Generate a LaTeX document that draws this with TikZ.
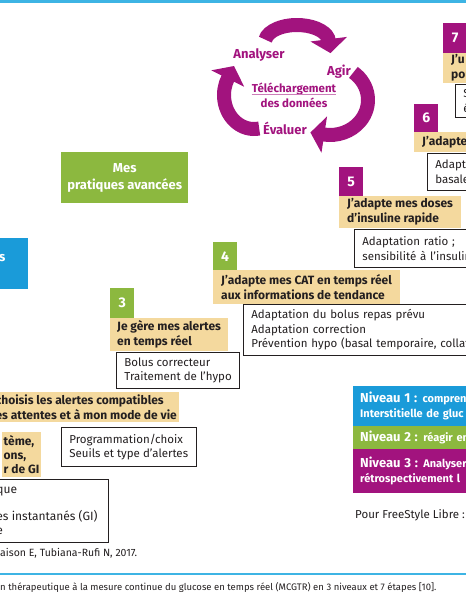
\documentclass[tikz,border=0pt]{standalone}
\usepackage{fontspec}
\setmainfont{Fira Sans}
\usetikzlibrary{arrows.meta,positioning}
\definecolor{ink}{HTML}{231F20}
\definecolor{plum}{HTML}{A2137E}
\definecolor{leaf}{HTML}{8CB83F}
\definecolor{sky}{HTML}{1A9BD9}
\definecolor{rule}{HTML}{3DB4E4}
\definecolor{sand}{HTML}{F4D99E}
\tikzset{
  every node/.style={font=\fontsize{11.5}{14.5}\selectfont,text=ink,inner sep=0pt},
  numbox/.style={anchor=north west,minimum width=24pt,text=white,font=\bfseries\fontsize{14}{14}\selectfont},
  band/.style={anchor=north west,fill=sand,align=left,inner xsep=8pt,font=\bfseries\fontsize{12}{15}\selectfont},
  infobox/.style={anchor=north west,draw=ink,line width=.8pt,fill=white,align=left,inner xsep=8pt},
  cyclearrow/.style={draw=plum,line width=14pt,-{Triangle[length=14pt,width=36pt]}},
  cycletext/.style={text=plum,font=\bfseries\fontsize{13}{15}\selectfont},
  levelbox/.style={anchor=north west,text=white,align=left,inner xsep=7pt,font=\bfseries\fontsize{11}{15}\selectfont},
  bigbold/.style={font=\bfseries\fontsize{13}{17}\selectfont}}
\newcommand\lvl[1]{{\fontsize{13}{15}\selectfont #1}}

\begin{document}
\begin{tikzpicture}[x=1pt,y=-1pt]
\useasboundingbox (0,0) rectangle (466,600);
\clip (0,0) rectangle (466,600);
\fill[rule] (0,0) rectangle (466,2.5);

\draw[cyclearrow] (297,42) ++(-172:32 and 17) arc[start angle=-172,end angle=-3,x radius=32,y radius=17] -- ++(1.5,12);
\draw[cyclearrow] (330,100) ++(-52:38 and 35) arc[start angle=-52,end angle=100,x radius=38,y radius=35] -- ++(-13,-2);
\draw[cyclearrow] (254,95) ++(80:30 and 34) arc[start angle=80,end angle=210,x radius=30,y radius=34] -- ++(6,-12);
\node[cycletext] (analyse) at (259,55) {Analyser};
\node[cycletext] (act) at (339,72) {Agir};
\node[cycletext,font=\bfseries\fontsize{11.5}{14}\selectfont] (download) at (294,89) {Téléchargement};
\draw[plum!55,line width=.8pt] ([yshift=-2pt]download.base west) -- ([yshift=-2pt]download.base east);
\node[cycletext,font=\bfseries\fontsize{11.5}{14}\selectfont] (data) at (294,103) {des données};
\node[cycletext] (evaluate) at (285,128) {Évaluer};

\node[fill=leaf,text=white,bigbold,align=center,anchor=north west,minimum width=127pt,minimum height=51pt] (advanced) at (61,152) {Mes\\pratiques avancées};
\node[fill=sky,anchor=north east,minimum width=40pt,minimum height=51pt] (basics) at (28,238) {};
\node[text=white,bigbold,anchor=east] (basicstxt) at (5.5,258) {s};

\node[numbox,fill=plum,minimum height=30pt] (num7) at (443,23) {7};
\node[band,minimum height=30pt,text width=40pt] (band7) at (443,53) {J'u\\pou};
\node[infobox,minimum height=33pt,text width=30pt] (box7) at (455,84) {S\\é};

\node[numbox,fill=plum,minimum height=28pt] (num6) at (414,104) {6};
\node[band,minimum height=20pt,text width=60pt] (band6) at (414,132) {J'adapte};
\node[infobox,minimum height=37pt,text width=50pt] (box6) at (427,153) {Adapta\\basale};

\node[numbox,fill=plum,minimum height=29pt] (num5) at (339,167) {5};
\node[band,minimum height=32pt] (band5) at (339,196) {J'adapte mes doses\\d'insuline rapide};
\node[infobox,minimum height=38pt,text width=120pt] (box5) at (354,229) {Adaptation ratio ;\\sensibilité à l'insulin};

\node[numbox,fill=leaf,minimum height=28pt] (num4) at (213,242) {4};
\node[band,minimum height=34pt] (band4) at (213,270) {J'adapte mes CAT en temps réel\\aux informations de tendance};
\node[infobox,minimum height=51pt,text width=250pt] (box4) at (243,304) {Adaptation du bolus repas prévu\\Adaptation correction\\Prévention hypo (basal temporaire, collati};

\node[numbox,fill=leaf,minimum height=30pt] (num3) at (110,288) {3};
\node[band,minimum height=33pt,inner xsep=7pt] (band3) at (110,318) {Je gère mes alertes\\en temps réel};
\node[infobox,minimum height=36pt] (box3) at (116,352) {Bolus correcteur\\Traitement de l'hypo};

\node[band,anchor=north east,minimum height=30pt,inner xsep=2pt] (band2) at (179,392) {choisis les alertes compatibles\\es attentes et à mon mode de vie};
\node[infobox,minimum height=39pt] (box2) at (61,427) {Programmation/choix\\Seuils et type d'alertes};

\node[band,anchor=north east,minimum height=45pt,inner xsep=1.5pt,font=\bfseries\fontsize{12}{14}\selectfont] (band1) at (41,432) {tème,\\ons,\\r de GI};
\node[infobox,anchor=north east,minimum height=63pt,inner xsep=11pt,font=\fontsize{12}{13.5}\selectfont] (box1) at (109,479) {que\\\mbox{}\\es instantanés (GI)\\e};

\node[levelbox,fill=sky,minimum height=40pt,text width=110pt] (level1) at (353,386) {\lvl{Niveau 1 :} compren\\Interstitielle de gluc};
\node[levelbox,fill=leaf,minimum height=23pt,text width=110pt] (level2) at (353,426) {\lvl{Niveau 2 :} réagir en};
\node[levelbox,fill=plum,minimum height=44pt,text width=110pt] (level3) at (353,449) {\lvl{Niveau 3 :} Analyser\\rétrospectivement l};
\node[anchor=west] (freestyle) at (355,515) {Pour FreeStyle Libre :};

\node[anchor=west,font=\fontsize{10.5}{12}\selectfont] (credit) at (0,553) {aison E, Tubiana-Rufi N, 2017.};
\draw[rule,line width=1.2pt] (0,574) -- (466,574);
\node[anchor=west,font=\fontsize{9.5}{12}\selectfont] (caption) at (0,587) {n thérapeutique à la mesure continue du glucose en temps réel (MCGTR) en 3 niveaux et 7 étapes [10].};
\end{tikzpicture}
\end{document}
